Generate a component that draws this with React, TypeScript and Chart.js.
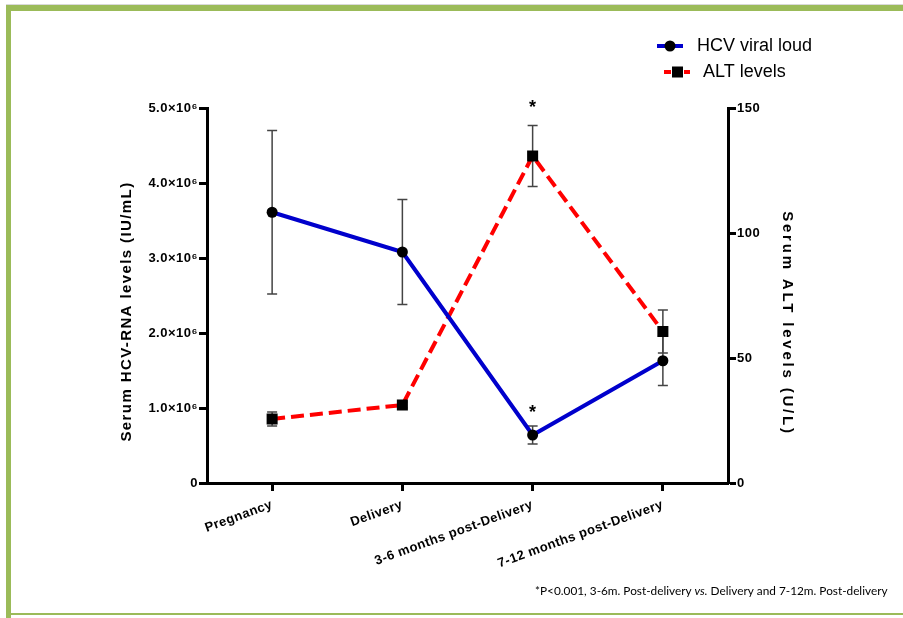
import { useEffect, useRef } from 'react';
import { Chart, registerables } from 'chart.js';

Chart.register(...registerables);

// ---- data ----
const categories = ['Pregnancy', 'Delivery', '3-6 months post-Delivery', '7-12 months post-Delivery'];
const hcvMean = [3.61e6, 3.08e6, 0.64e6, 1.63e6];
const hcvErr = [1.09e6, 0.70e6, 0.12e6, 0.33e6];
const altMean = [25.6, 31.2, 130.8, 60.6];
const altErr = [2.8, 1.2, 12.2, 8.6];
const leftTickValues = [0, 1e6, 2e6, 3e6, 4e6, 5e6];
const leftTickLabels = ['0', '1.0×10⁶', '2.0×10⁶', '3.0×10⁶', '4.0×10⁶', '5.0×10⁶'];
const rightTickValues = [0, 50, 100, 150];
const seriesLabels = ['HCV viral loud', 'ALT levels'];
const leftTitle = 'Serum HCV-RNA levels (IU/mL)';
const rightTitle = 'Serum ALT levels (U/L)';
const starCategoryIndex = 2;
const footnoteParts = [
  { text: '*P<0.001, 3-6m. Post-delivery ', italic: false },
  { text: 'vs.', italic: true },
  { text: ' Delivery and 7-12m. Post-delivery', italic: false },
];

const FONT = '"Liberation Sans", Arial, sans-serif';
const GREEN = '#9BBB59';

const extrasPlugin = {
  id: 'extras',
  beforeDraw(chart: any) {
    const ctx = chart.ctx;
    ctx.letterSpacing = '0.5px';
    ctx.save();
    ctx.fillStyle = '#fff';
    ctx.fillRect(0, 0, chart.width, chart.height);
    ctx.restore();
  },
  beforeDatasetsDraw(chart: any) {
    const ctx = chart.ctx;
    const x = chart.scales.x;
    const sets = [
      { scale: chart.scales.y, mean: hcvMean, err: hcvErr },
      { scale: chart.scales.y1, mean: altMean, err: altErr },
    ];
    ctx.save();
    ctx.strokeStyle = '#444';
    ctx.lineWidth = 1.5;
    sets.forEach((s) => {
      s.mean.forEach((m, i) => {
        const px = x.getPixelForValue(i);
        const yTop = s.scale.getPixelForValue(m + s.err[i]);
        const yBot = s.scale.getPixelForValue(m - s.err[i]);
        ctx.beginPath();
        ctx.moveTo(px, yTop);
        ctx.lineTo(px, yBot);
        ctx.moveTo(px - 5, yTop);
        ctx.lineTo(px + 5, yTop);
        ctx.moveTo(px - 5, yBot);
        ctx.lineTo(px + 5, yBot);
        ctx.stroke();
      });
    });
    ctx.restore();
  },
  afterDatasetsDraw(chart: any) {
    const ctx = chart.ctx;
    const x = chart.scales.x;
    ctx.save();
    ctx.letterSpacing = '0px';
    ctx.fillStyle = '#000';
    ctx.font = `bold 18px ${FONT}`;
    ctx.textAlign = 'center';
    ctx.textBaseline = 'middle';
    const px = x.getPixelForValue(starCategoryIndex);
    const yAlt = chart.scales.y1.getPixelForValue(altMean[starCategoryIndex] + altErr[starCategoryIndex]);
    ctx.fillText('*', px, yAlt - 17);
    const yHcv = chart.scales.y.getPixelForValue(hcvMean[starCategoryIndex] + hcvErr[starCategoryIndex]);
    ctx.fillText('*', px, yHcv - 13);
    ctx.restore();
  },
  afterDraw(chart: any) {
    const ctx = chart.ctx;
    const area = chart.chartArea;
    const midY = (area.top + area.bottom) / 2;
    // axis titles
    ctx.save();
    ctx.fillStyle = '#000';
    ctx.textAlign = 'center';
    ctx.textBaseline = 'middle';
    ctx.font = `bold 15px ${FONT}`;
    ctx.letterSpacing = '1.4px';
    ctx.translate(127, midY + 16);
    ctx.rotate(-Math.PI / 2);
    ctx.fillText(leftTitle, 0, 0);
    ctx.restore();

    ctx.save();
    ctx.fillStyle = '#000';
    ctx.textAlign = 'center';
    ctx.textBaseline = 'middle';
    ctx.font = `bold 15px ${FONT}`;
    ctx.letterSpacing = '2.8px';
    ctx.translate(787, midY + 28);
    ctx.rotate(Math.PI / 2);
    ctx.fillText(rightTitle, 0, 0);
    ctx.restore();

    // legend
    const ds = chart.data.datasets;
    ctx.save();
    ctx.letterSpacing = '0px';
    ctx.lineCap = 'butt';
    ctx.strokeStyle = ds[0].borderColor;
    ctx.lineWidth = 4;
    ctx.beginPath();
    ctx.moveTo(657, 46);
    ctx.lineTo(683, 46);
    ctx.stroke();
    ctx.fillStyle = '#000';
    ctx.beginPath();
    ctx.arc(670, 46, 5.5, 0, Math.PI * 2);
    ctx.fill();
    ctx.strokeStyle = ds[1].borderColor;
    ctx.beginPath();
    ctx.moveTo(664, 72);
    ctx.lineTo(671, 72);
    ctx.moveTo(684, 72);
    ctx.lineTo(690, 72);
    ctx.stroke();
    ctx.fillRect(672, 66.5, 11, 11);
    ctx.font = `18px ${FONT}`;
    ctx.textAlign = 'left';
    ctx.textBaseline = 'middle';
    ctx.fillText(ds[0].label, 697, 46);
    ctx.fillText(ds[1].label, 703, 72);

    // footnote
    const baseSize = 12;
    let total = 0;
    footnoteParts.forEach((p) => {
      ctx.font = `${p.italic ? 'italic ' : ''}${baseSize}px Lato, ${FONT}`;
      total += ctx.measureText(p.text).width;
    });
    const size = (baseSize * 353) / total;
    let cx = 888 - 353;
    ctx.textBaseline = 'middle';
    footnoteParts.forEach((p) => {
      ctx.font = `${p.italic ? 'italic ' : ''}${size}px Lato, ${FONT}`;
      ctx.fillText(p.text, cx, 591);
      cx += ctx.measureText(p.text).width;
    });
    ctx.restore();
  },
};

export default function App() {
  const ref = useRef<HTMLCanvasElement | null>(null);

  useEffect(() => {
    document.body.style.margin = '0';
    const canvas = ref.current;
    if (!canvas) return;
    const tickFont = { family: FONT, weight: 'bold' as const, size: 13 };
    const chart = new Chart(canvas, {
      type: 'line',
      data: {
        labels: categories,
        datasets: [
          {
            label: seriesLabels[0],
            data: hcvMean,
            yAxisID: 'y',
            borderColor: '#0000CC',
            borderWidth: 4,
            pointRadius: 5.5,
            pointBackgroundColor: '#000',
            pointBorderColor: '#000',
            pointBorderWidth: 0,
            tension: 0,
          },
          {
            label: seriesLabels[1],
            data: altMean,
            yAxisID: 'y1',
            borderColor: '#FF0000',
            borderWidth: 4,
            borderDash: [13, 6],
            pointStyle: 'rect',
            pointRadius: 7.8,
            pointBackgroundColor: '#000',
            pointBorderColor: '#000',
            pointBorderWidth: 0,
            tension: 0,
          },
        ],
      },
      options: {
        animation: false,
        responsive: false,
        layout: { padding: { top: 108, left: 0, right: 0, bottom: 0 } },
        plugins: { legend: { display: false }, tooltip: { enabled: false } },
        scales: {
          x: {
            type: 'category',
            offset: true,
            grid: { display: true, drawOnChartArea: false, drawTicks: true, tickLength: 8, tickWidth: 3, tickColor: '#000' },
            border: { display: true, color: '#000', width: 3 },
            ticks: { minRotation: 20, maxRotation: 20, autoSkip: false, color: '#000', font: tickFont, padding: 6 },
            afterFit: (s: any) => { s.height = 135; },
          },
          y: {
            position: 'left',
            min: 0,
            max: 5e6,
            afterBuildTicks: (s: any) => { s.ticks = leftTickValues.map((v) => ({ value: v })); },
            grid: { display: true, drawOnChartArea: false, drawTicks: true, tickLength: 8, tickWidth: 3, tickColor: '#000' },
            border: { display: true, color: '#000', width: 3 },
            ticks: {
              color: '#000',
              font: tickFont,
              padding: 1,
              callback: (v: any) => leftTickLabels[leftTickValues.indexOf(Number(v))] ?? '',
            },
            afterFit: (s: any) => { s.width = 207; },
          },
          y1: {
            position: 'right',
            min: 0,
            max: 150,
            afterBuildTicks: (s: any) => { s.ticks = rightTickValues.map((v) => ({ value: v })); },
            grid: { display: true, drawOnChartArea: false, drawTicks: true, tickLength: 8, tickWidth: 3, tickColor: '#000' },
            border: { display: true, color: '#000', width: 3 },
            ticks: { color: '#000', font: tickFont, padding: 1 },
            afterFit: (s: any) => { s.width = 175; },
          },
        },
      },
      plugins: [extrasPlugin],
    });
    return () => chart.destroy();
  }, []);

  return (
    <div style={{ position: 'relative', width: 903, height: 618, background: '#fff', overflow: 'hidden' }}>
      <canvas ref={ref} width={903} height={618} style={{ display: 'block', position: 'absolute', left: 0, top: 0 }} />
      <div style={{ position: 'absolute', left: 6, top: 4, width: 897, height: 1, background: '#d9d9d9' }} />
      <div style={{ position: 'absolute', left: 6, top: 5, width: 897, height: 6, background: GREEN }} />
      <div style={{ position: 'absolute', left: 6, top: 5, width: 5, height: 613, background: GREEN }} />
      <div style={{ position: 'absolute', left: 6, top: 613, width: 897, height: 2, background: GREEN }} />
    </div>
  );
}
